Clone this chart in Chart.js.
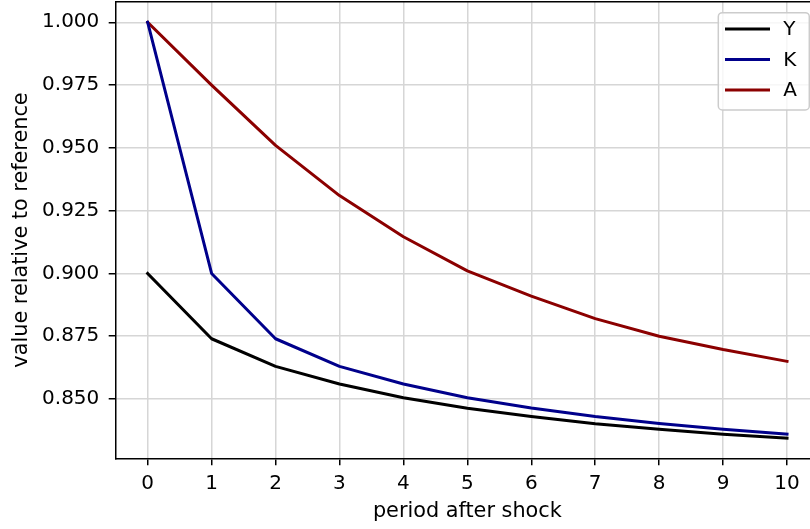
<!DOCTYPE html>
<html>
<head>
<meta charset="utf-8">
<script src="https://cdn.jsdelivr.net/npm/chart.js@4.4.1/dist/chart.umd.min.js"></script>
<style>
  html, body { margin: 0; padding: 0; overflow: hidden; background: #fff; }
  #wrap { width: 830px; height: 529px; }
</style>
</head>
<body>
<div id="wrap"><canvas id="chart" width="830" height="529"></canvas></div>
<script>
const periods = [0, 1, 2, 3, 4, 5, 6, 7, 8, 9, 10];
const outputY = [0.900, 0.874, 0.863, 0.856, 0.8505, 0.8463, 0.843, 0.8402, 0.838, 0.836, 0.8344];
const capitalK = [1.000, 0.900, 0.874, 0.863, 0.856, 0.8505, 0.8464, 0.843, 0.8403, 0.838, 0.836];
const techA = [1.000, 0.975, 0.951, 0.931, 0.9146, 0.901, 0.891, 0.882, 0.875, 0.8697, 0.865];
const yTicks = [0.850, 0.875, 0.900, 0.925, 0.950, 0.975, 1.000];
const xTicks = periods;

Chart.defaults.font.family = '"DejaVu Sans", sans-serif';
Chart.defaults.font.size = 20;
Chart.defaults.color = '#000';

function series(label, values, color) {
    return {
        label: label,
        data: periods.map((p, i) => ({ x: p, y: values[i] })),
        borderColor: color,
        backgroundColor: color,
        borderWidth: 3,
        pointRadius: 0,
        tension: 0,
        borderJoinStyle: 'round',
        borderCapStyle: 'square',
        fill: false
    };
}

// top/right spines, matplotlib style
const spines = {
    id: 'spines',
    afterDraw(chart) {
        const { ctx, chartArea: a } = chart;
        ctx.save();
        ctx.strokeStyle = '#000';
        ctx.lineWidth = 1.5;
        ctx.beginPath();
        ctx.moveTo(a.left, a.top);
        ctx.lineTo(a.right, a.top);
        ctx.lineTo(a.right, a.bottom);
        ctx.stroke();
        ctx.restore();
    }
};

// legend box in the upper right corner of the plot
const boxLegend = {
    id: 'boxLegend',
    afterDraw(chart) {
        const { ctx, chartArea: a } = chart;
        const w = 91, h = 97.3;
        const right = a.right - 9.7;
        const top = a.top + 11;
        const left = right - w;
        ctx.save();
        ctx.beginPath();
        ctx.roundRect(left, top, w, h, 4);
        ctx.fillStyle = 'rgba(255,255,255,0.8)';
        ctx.fill();
        ctx.strokeStyle = '#cccccc';
        ctx.lineWidth = 1.5;
        ctx.stroke();
        ctx.font = '20px "DejaVu Sans", sans-serif';
        ctx.textBaseline = 'middle';
        ctx.textAlign = 'left';
        chart.data.datasets.forEach((ds, i) => {
            const y = top + 16.3 + i * 30.5;
            ctx.strokeStyle = ds.borderColor;
            ctx.lineWidth = 3;
            ctx.beginPath();
            ctx.moveTo(left + 6.7, y);
            ctx.lineTo(left + 51.7, y);
            ctx.stroke();
            ctx.fillStyle = '#000';
            ctx.fillText(ds.label, left + 65, y + 1);
        });
        ctx.restore();
    }
};

const gridColor = '#d6d6d6';

new Chart(document.getElementById('chart'), {
    type: 'line',
    data: {
        datasets: [
            series('Y', outputY, '#000000'),
            series('K', capitalK, '#00008b'),
            series('A', techA, '#8b0000')
        ]
    },
    options: {
        responsive: false,
        animation: false,
        devicePixelRatio: 1,
        layout: { padding: { top: 1.7, right: 11, bottom: 0, left: 0 } },
        plugins: {
            legend: { display: false },
            tooltip: { enabled: false }
        },
        scales: {
            x: {
                type: 'linear',
                min: -0.5,
                max: 10.5,
                afterBuildTicks: axis => { axis.ticks = xTicks.map(v => ({ value: v })); },
                afterFit: axis => {
                    axis.height = 70.7;
                    axis.paddingLeft = 0;
                    axis.paddingRight = 0;
                },
                grid: {
                    color: gridColor,
                    lineWidth: 1.5,
                    tickLength: 7,
                    tickColor: '#000',
                    tickWidth: 1.5
                },
                border: { color: '#000', width: 1.5 },
                ticks: {
                    padding: 6.5,
                    maxRotation: 0,
                    callback: v => String(v)
                },
                title: {
                    display: true,
                    text: 'period after shock',
                    font: { size: 20.8 },
                    padding: { top: 0, bottom: 4.5 }
                }
            },
            y: {
                min: 0.8264,
                max: 1.0082,
                afterBuildTicks: axis => { axis.ticks = yTicks.map(v => ({ value: v })); },
                afterFit: axis => {
                    axis.width = 115.7;
                    axis.paddingTop = 0;
                    axis.paddingBottom = 0;
                },
                grid: {
                    color: gridColor,
                    lineWidth: 1.5,
                    tickLength: 7,
                    tickColor: '#000',
                    tickWidth: 1.5
                },
                border: { color: '#000', width: 1.5 },
                ticks: {
                    padding: 9.4,
                    callback: v => Number(v).toFixed(3)
                },
                title: {
                    display: true,
                    text: 'value relative to reference',
                    font: { size: 20.8 },
                    padding: { top: 9.2, bottom: 0 }
                }
            }
        }
    },
    plugins: [spines, boxLegend]
});
</script>
</body>
</html>
